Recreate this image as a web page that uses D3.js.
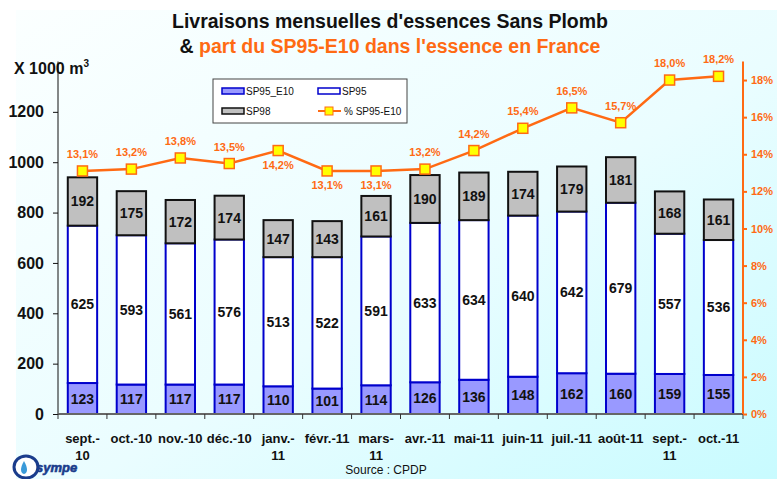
<html>
<head>
<meta charset="utf-8">
<script src="https://d3js.org/d3.v7.min.js"></script>
<style>
  body { margin: 0; background: #fff; }
  text { font-family: "Liberation Sans", Arial, sans-serif; }
  .title { font-family: "Liberation Sans Narrow", "Liberation Sans", Arial, sans-serif; font-weight: bold; font-size: 19.5px; }
  .lbl { font-weight: bold; font-size: 14px; fill: #111; }
</style>
</head>
<body>
<svg width="777" height="479"></svg>
<script>
const months = ["sept.-10", "oct.-10", "nov.-10", "déc.-10", "janv.-11", "févr.-11", "mars-11",
                "avr.-11", "mai-11", "juin-11", "juil.-11", "août-11", "sept.-11", "oct.-11"];
const monthLines = [["sept.-", "10"], ["oct.-10"], ["nov.-10"], ["déc.-10"], ["janv.-", "11"], ["févr.-11"], ["mars-", "11"],
                    ["avr.-11"], ["mai-11"], ["juin-11"], ["juil.-11"], ["août-11"], ["sept.-", "11"], ["oct.-11"]];
const sp95e10 = [123, 117, 117, 117, 110, 101, 114, 126, 136, 148, 162, 160, 159, 155];
const sp95 = [625, 593, 561, 576, 513, 522, 591, 633, 634, 640, 642, 679, 557, 536];
const sp98 = [192, 175, 172, 174, 147, 143, 161, 190, 189, 174, 179, 181, 168, 161];
const partE10 = [13.1, 13.2, 13.8, 13.5, 14.2, 13.1, 13.1, 13.2, 14.2, 15.4, 16.5, 15.7, 18.0, 18.2];
const pctBelow = ["janv.-11", "févr.-11", "mars-11"];
const leftTicks = [0, 200, 400, 600, 800, 1000, 1200];
const rightTicks = [0, 2, 4, 6, 8, 10, 12, 14, 16, 18];

const svg = d3.select("svg");
const W = 777, H = 479;
const pl = 58, pr = 743, pt = 61.5, pb = 414;
const orange = "#ff6a13";

// background
const defs = svg.append("defs");
const grad = defs.append("linearGradient").attr("id", "bg").attr("x1", 0).attr("y1", 0).attr("x2", 1).attr("y2", 1);
grad.append("stop").attr("offset", "0%").attr("stop-color", "#fbffff");
grad.append("stop").attr("offset", "55%").attr("stop-color", "#eafdff");
grad.append("stop").attr("offset", "100%").attr("stop-color", "#c8fbff");
svg.append("rect").attr("width", W).attr("height", H).attr("fill", "#fff");
svg.append("rect").attr("x", 16).attr("y", 10).attr("width", W - 16).attr("height", H - 10).attr("fill", "url(#bg)");

const x = d3.scaleBand().domain(months).range([pl, pr]).paddingInner(0.4).paddingOuter(0.2);
const xc = d3.scaleBand().domain(months).range([pl, pr]);
const y = d3.scaleLinear().domain([0, 1400]).range([pb, pt]);
const yp = d3.scaleLinear().domain([0, 19]).range([pb, pt]);

// titles
svg.append("text").attr("class", "title").attr("x", 390).attr("y", 28).attr("text-anchor", "middle")
  .attr("fill", "#111").text("Livraisons mensuelles d'essences Sans Plomb");
const t2 = svg.append("text").attr("class", "title").attr("x", 390).attr("y", 53).attr("text-anchor", "middle");
t2.append("tspan").attr("fill", "#111").text("& ");
t2.append("tspan").attr("fill", orange).text("part du SP95-E10 dans l'essence en France");

const unit = svg.append("text").attr("x", 14).attr("y", 74).attr("font-weight", "bold").attr("font-size", 16).attr("fill", "#111");
unit.append("tspan").text("X 1000 m");
unit.append("tspan").attr("font-size", 10).attr("dy", -7).text("3");

// stacked bars
const series = [
  {key: "SP95_E10", vals: sp95e10, fill: "#9999ff", stroke: "#0000cc"},
  {key: "SP95", vals: sp95, fill: "#ffffff", stroke: "#0000cc"},
  {key: "SP98", vals: sp98, fill: "#c0c0c0", stroke: "#111"}
];
const g = svg.append("g");
months.forEach((m, i) => {
  let base = 0;
  series.forEach(s => {
    const v = s.vals[i];
    const y0 = y(base), y1 = y(base + v);
    g.append("rect").attr("x", x(m)).attr("y", y1).attr("width", x.bandwidth()).attr("height", y0 - y1)
      .attr("fill", s.fill).attr("stroke", s.stroke).attr("stroke-width", 2);
    base += v;
  });
});
// labels
months.forEach((m, i) => {
  let base = 0;
  series.forEach(s => {
    const v = s.vals[i];
    const small = s.key === "SP98" && (v === 172 || v === 174);
    g.append("text").attr("class", "lbl").attr("x", x(m) + x.bandwidth() / 2)
      .attr("y", (y(base) + y(base + v)) / 2 + 5).attr("text-anchor", "middle")
      .attr("font-size", small ? 12 : 14).text(v);
    base += v;
  });
});

// left axis
const ya = svg.append("g").attr("transform", `translate(${pl},0)`)
  .call(d3.axisLeft(y).tickValues(leftTicks).tickSize(5).tickSizeOuter(0).tickPadding(9).tickFormat(d3.format("d")));
ya.select(".domain").attr("stroke", "#111").attr("d", `M0,${pb}V${pt}`);
ya.selectAll("line").attr("stroke", "#111");
ya.selectAll("text").attr("font-size", 16).attr("font-weight", "bold").attr("fill", "#111")
  .attr("font-family", "Liberation Sans, Arial, sans-serif");

// x axis
const xa = svg.append("g").attr("transform", `translate(0,${pb})`);
xa.append("line").attr("x1", pl).attr("x2", pr).attr("stroke", "#666").attr("stroke-width", 2);
months.forEach(m => {
  xa.append("line").attr("x1", xc(m)).attr("x2", xc(m)).attr("y1", 0).attr("y2", 5).attr("stroke", "#333");
});
xa.append("line").attr("x1", pr).attr("x2", pr).attr("y1", 0).attr("y2", 5).attr("stroke", "#333");
months.forEach((m, i) => {
  const t = xa.append("text").attr("x", xc(m) + xc.bandwidth() / 2).attr("y", 29).attr("text-anchor", "middle")
    .attr("font-weight", "bold").attr("font-size", 13).attr("fill", "#111");
  monthLines[i].forEach((ln, k) => {
    t.append("tspan").attr("x", xc(m) + xc.bandwidth() / 2).attr("dy", k ? 17 : 0).text(ln);
  });
});

// right axis
const ra = svg.append("g").attr("transform", `translate(${pr},0)`)
  .call(d3.axisRight(yp).tickValues(rightTicks).tickSize(4).tickSizeOuter(0).tickPadding(4).tickFormat(d => d + "%"));
ra.select(".domain").attr("stroke", orange).attr("stroke-width", 2).attr("d", `M0,${pb}V${pt}`);
ra.selectAll("line").attr("stroke", orange).attr("stroke-width", 2);
ra.selectAll("text").attr("font-size", 11).attr("font-weight", "bold").attr("fill", orange)
  .attr("font-family", "Liberation Sans, Arial, sans-serif");

// percentage line
const line = d3.line().x((d, i) => xc(months[i]) + xc.bandwidth() / 2).y(d => yp(d));
svg.append("path").datum(partE10).attr("d", line).attr("fill", "none").attr("stroke", orange).attr("stroke-width", 2.5);
svg.selectAll(".mk").data(partE10).enter().append("rect")
  .attr("x", (d, i) => xc(months[i]) + xc.bandwidth() / 2 - 5).attr("y", d => yp(d) - 5)
  .attr("width", 10).attr("height", 10).attr("fill", "#ffff00").attr("stroke", orange).attr("stroke-width", 1.5);
svg.selectAll(".pl").data(partE10).enter().append("text")
  .attr("x", (d, i) => xc(months[i]) + xc.bandwidth() / 2)
  .attr("y", (d, i) => yp(d) + (pctBelow.includes(months[i]) ? 18 : -13))
  .attr("text-anchor", "middle").attr("font-size", 11).attr("font-weight", "bold").attr("fill", orange)
  .text(d => d.toFixed(1).replace(".", ",") + "%");

// legend
const lg = svg.append("g").attr("transform", "translate(213,79)");
lg.append("rect").attr("width", 194).attr("height", 44).attr("fill", "#fff").attr("stroke", "#444").attr("stroke-width", 1);
const items = [
  {label: "SP95_E10", x: 9, y: 12, fill: "#9999ff", stroke: "#0000cc"},
  {label: "SP95", x: 105, y: 12, fill: "#fff", stroke: "#0000cc"},
  {label: "SP98", x: 9, y: 32, fill: "#c0c0c0", stroke: "#111"}
];
items.forEach(it => {
  lg.append("rect").attr("x", it.x).attr("y", it.y - 3).attr("width", 22).attr("height", 6)
    .attr("fill", it.fill).attr("stroke", it.stroke).attr("stroke-width", 1.5);
  lg.append("text").attr("x", it.x + 24).attr("y", it.y + 4).attr("font-size", 10).attr("fill", "#111").text(it.label);
});
lg.append("line").attr("x1", 105).attr("x2", 128).attr("y1", 32).attr("y2", 32).attr("stroke", orange).attr("stroke-width", 2);
lg.append("rect").attr("x", 112).attr("y", 28).attr("width", 8).attr("height", 8).attr("fill", "#ffff00").attr("stroke", orange);
lg.append("text").attr("x", 131).attr("y", 36).attr("font-size", 10).attr("fill", "#111").text("% SP95-E10");

// source
svg.append("text").attr("x", 386).attr("y", 474).attr("text-anchor", "middle").attr("font-size", 12).attr("fill", "#111").text("Source : CPDP");

// logo
const logo = svg.append("g").attr("transform", "translate(14,455)");
logo.append("ellipse").attr("cx", 12).attr("cy", 12).attr("rx", 12).attr("ry", 11).attr("fill", "#fff").attr("stroke", "#1a3c8c").attr("stroke-width", 3);
logo.append("path").attr("d", "M10,6 C6,13 6,18 10,19 C14,18 14,13 10,6Z").attr("fill", "#3a9ad9");
logo.append("text").attr("x", 22).attr("y", 17).attr("font-size", 13).attr("font-weight", "bold").attr("font-style", "italic")
  .attr("fill", "#1a3c8c").attr("stroke", "#1a3c8c").attr("stroke-width", 0.6).text("sympe");
</script>
</body>
</html>
